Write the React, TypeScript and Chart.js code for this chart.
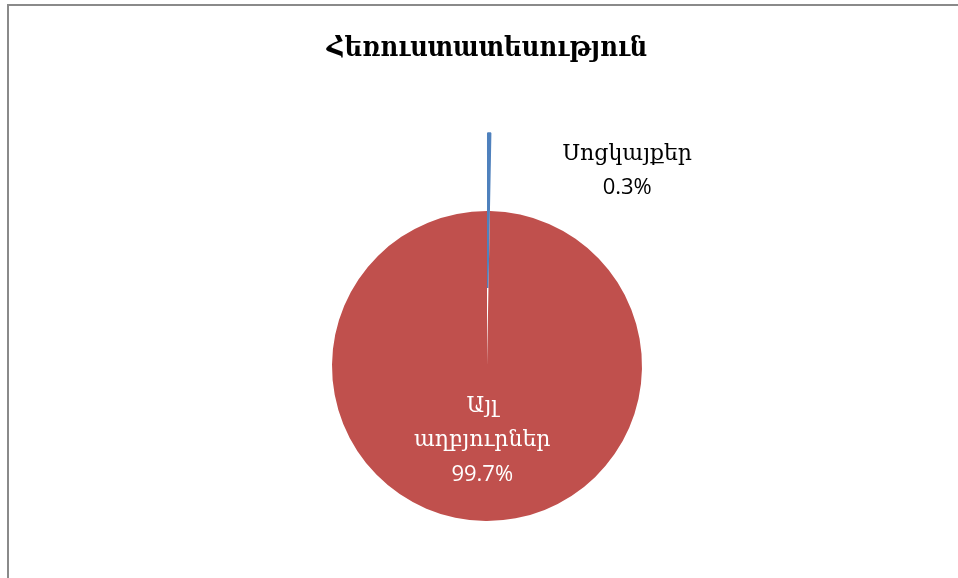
import React, { useEffect, useRef } from "react";
import { Chart, registerables } from "chart.js";

Chart.register(...registerables);

const TITLE = "Հեռուստատեսություն";
const categories = ["Սոցկայքեր", "Այլ աղբյուրներ"];
const labelLines = [["Սոցկայքեր"], ["Այլ", "աղբյուրներ"]];
const values = [0.3, 99.7];
const percentLabels = ["0.3%", "99.7%"];
const colors = ["#4F81BD", "#C0504D"];
const labelColors = ["#000000", "#FFFFFF"];

const EXPLODE = 78; // explode distance of first slice (px)
const PIE_RADIUS = 155;

const explodePlugin = {
  id: "explodeFirst",
  afterDatasetsUpdate(chart: any) {
    const meta = chart.getDatasetMeta(0);
    const arc = meta.data[0];
    if (!arc) return;
    const mid = (arc.startAngle + arc.endAngle) / 2;
    arc.x += Math.cos(mid) * EXPLODE;
    arc.y += Math.sin(mid) * EXPLODE;
  },
};

const serifFont = '"DejaVu Serif", serif';
const sansFont = '"Open Sans", "Liberation Sans", sans-serif';

const labelPlugin = {
  id: "sliceLabels",
  afterDatasetsDraw(chart: any) {
    const ctx = chart.ctx;
    const meta = chart.getDatasetMeta(0);
    ctx.save();
    ctx.textAlign = "center";
    ctx.textBaseline = "middle";
    meta.data.forEach((arc: any, i: number) => {
      const lines = [...labelLines[i], percentLabels[i]];
      const lh = 34;
      let cx: number, cy: number;
      if (i === 0) {
        const mid = (arc.startAngle + arc.endAngle) / 2;
        const ox = arc.x + Math.cos(mid) * arc.outerRadius;
        const oy = arc.y + Math.sin(mid) * arc.outerRadius;
        cx = ox + 138;
        cy = oy + 38;
      } else {
        const p = arc.tooltipPosition();
        cx = p.x - 4;
        cy = p.y - 3;
      }
      ctx.fillStyle = labelColors[i];
      const top = cy - ((lines.length - 1) * lh) / 2;
      lines.forEach((t, k) => {
        const isPct = k === lines.length - 1;
        ctx.font = isPct ? `22px ${sansFont}` : `22px ${serifFont}`;
        ctx.fillText(t, cx, top + k * lh);
      });
    });
    ctx.restore();
  },
};

export default function App() {
  const ref = useRef<HTMLCanvasElement | null>(null);
  useEffect(() => {
    if (!ref.current) return;
    const chart = new Chart(ref.current, {
      type: "pie",
      data: {
        labels: categories,
        datasets: [
          {
            data: values,
            backgroundColor: colors,
            borderColor: colors,
            borderWidth: [1.5, 0],
          },
        ],
      },
      options: {
        responsive: false,
        animation: false,
        events: [],
        radius: PIE_RADIUS,
        rotation: 0,
        layout: { padding: { left: 16, top: 0, right: 0, bottom: 0 } },
        plugins: {
          legend: { display: false },
          tooltip: { enabled: false },
          title: {
            display: true,
            text: TITLE,
            color: "#000000",
            font: {
              family: '"DejaVu Serif Condensed", "DejaVu Serif", serif',
              size: 27,
              weight: "bold",
              lineHeight: 1.2,
            },
            padding: { top: 33, bottom: 88.6 },
          },
        },
      } as any,
      plugins: [explodePlugin, labelPlugin],
    });
    return () => chart.destroy();
  }, []);
  return (
    <div
      style={{
        position: "fixed",
        left: 0,
        top: 0,
        width: 958,
        height: 578,
        background: "#ffffff",
        overflow: "hidden",
      }}
    >
      <div
        style={{
          position: "absolute",
          left: 7,
          top: 4,
          width: 1000,
          height: 1000,
          borderLeft: "2px solid #8a8a8a",
          borderTop: "2px solid #8a8a8a",
        }}
      />
      <canvas
        ref={ref}
        width={958}
        height={578}
        style={{ position: "absolute", left: 0, top: 0 }}
      />
    </div>
  );
}
